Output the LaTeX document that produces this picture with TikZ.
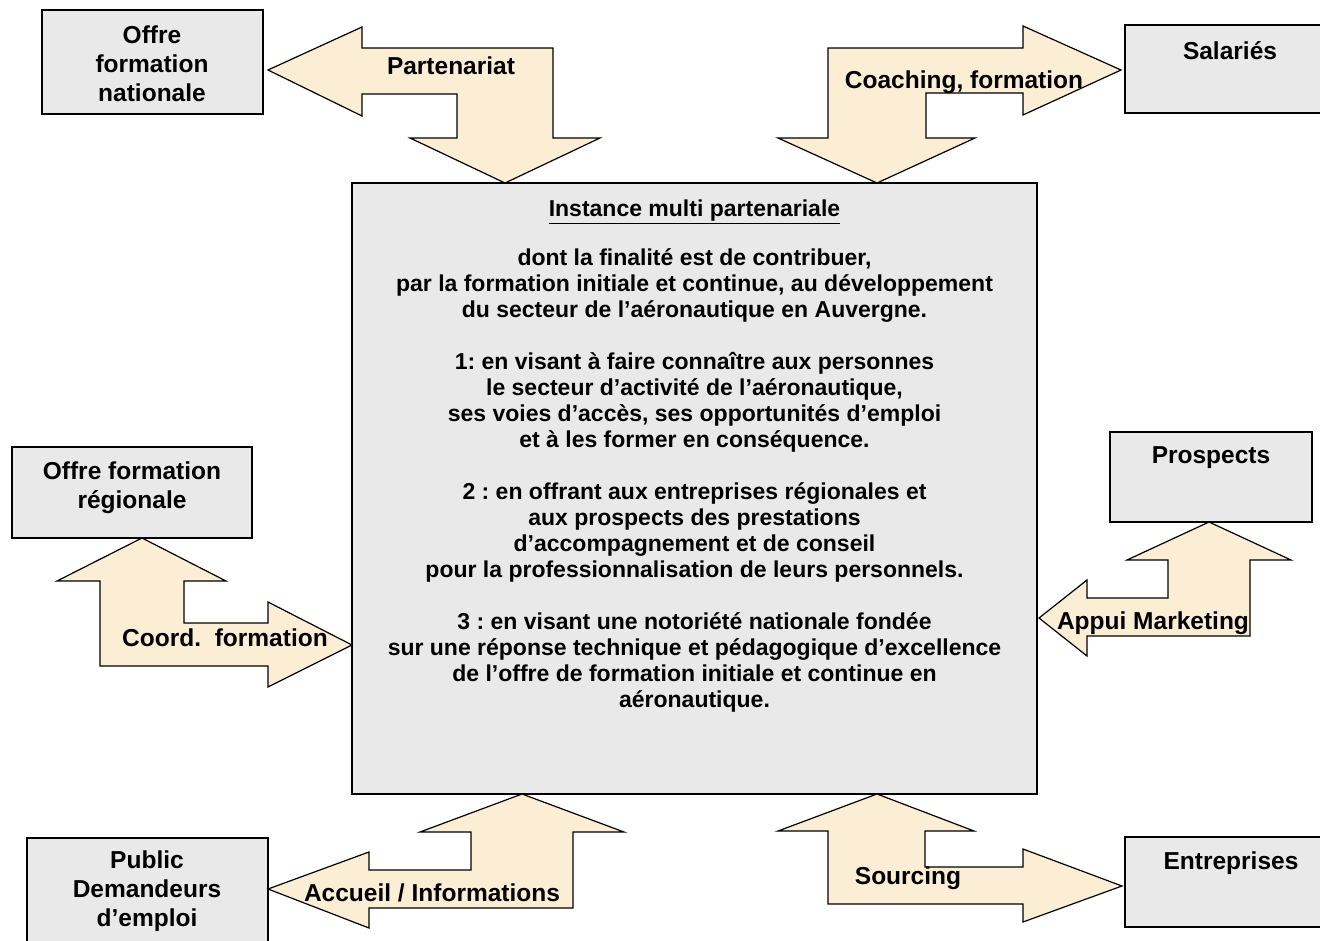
\documentclass[tikz,border=0pt]{standalone}
\usepackage{fontspec}
\setmainfont{Liberation Sans}
\frenchspacing
\definecolor{parchment}{RGB}{252,238,212}
\definecolor{boxgray}{RGB}{233,233,233}

\begin{document}
\begin{tikzpicture}[x=1pt, y=-1pt,
		fleche/.style={fill=parchment, draw=black, line width=1.2pt, line join=miter},
		cadre/.style={fill=boxgray, draw=black, line width=1.4pt},
		titre/.style={font=\fontsize{24.5}{29}\selectfont\bfseries, align=center, inner sep=0},
		etiquette/.style={font=\fontsize{24.5}{29}\selectfont\bfseries, anchor=base, inner sep=0}]
		\useasboundingbox (0, 0) rectangle (1320, 940);

		% cadres
		\filldraw[cadre] (42, 10) rectangle (263, 114);
		\filldraw[cadre] (1125, 25) rectangle (1330, 113);
		\filldraw[cadre] (12, 447) rectangle (252, 538);
		\filldraw[cadre] (1110, 432) rectangle (1312, 522);
		\filldraw[cadre] (27, 838) rectangle (268, 950);
		\filldraw[cadre] (1125, 837) rectangle (1330, 927);
		\filldraw[cadre] (352, 183) rectangle (1037, 794);

		% fleches
		\filldraw[fleche] (268, 70) -- (362, 27) -- (362, 48) -- (553, 48) -- (553, 138) -- (600, 138) -- (505, 183)
			-- (410, 138) -- (457, 138) -- (457, 94) -- (362, 94) -- (362, 116) -- cycle;
		\filldraw[fleche] (1121, 70) -- (1023, 26) -- (1023, 48) -- (828, 48) -- (828, 138) -- (778, 138) -- (877, 183)
			-- (975, 138) -- (926, 138) -- (926, 93) -- (1023, 93) -- (1023, 115) -- cycle;
		\filldraw[fleche] (142, 538) -- (226, 581) -- (184, 581) -- (184, 623) -- (268, 623) -- (268, 602) -- (352, 645)
			-- (268, 687) -- (268, 666) -- (100, 666) -- (100, 581) -- (57, 581) -- cycle;
		\filldraw[fleche] (1209, 522) -- (1291, 560) -- (1250, 560) -- (1250, 636) -- (1087, 636) -- (1087, 656) -- (1039, 618)
			-- (1087, 580) -- (1087, 598) -- (1168, 598) -- (1168, 560) -- (1127, 560) -- cycle;
		\filldraw[fleche] (522, 794) -- (624, 832) -- (573, 832) -- (573, 908) -- (369, 908) -- (369, 928) -- (268, 889)
			-- (369, 852) -- (369, 870) -- (471, 870) -- (471, 832) -- (420, 832) -- cycle;
		\filldraw[fleche] (877, 794) -- (974, 831) -- (925, 831) -- (925, 867) -- (1023, 867) -- (1023, 849) -- (1122, 886)
			-- (1023, 922) -- (1023, 904) -- (828, 904) -- (828, 831) -- (778, 831) -- cycle;

		% textes des cadres
		\node[titre] (nationale) at (152, 64) {Offre\\formation\\nationale};
		\node[titre] (salaries) at (1230, 51) {Salariés};
		\node[titre] (regionale) at (132, 488) {Offre formation\\régionale};
		\node[titre] (prospects) at (1211, 458) {Prospects};
		\node[titre] (public) at (147, 891) {Public\\Demandeurs\\d’emploi};
		\node[titre] (entreprises) at (1231, 863) {Entreprises};

		% textes des fleches
		\node[etiquette] (partenariat) at (451, 74) {Partenariat};
		\node[etiquette] (coaching) at (964, 88) {Coaching, formation};
		\node[etiquette] (coord) at (225, 646) {Coord.~~formation};
		\node[etiquette] (marketing) at (1153, 629) {Appui Marketing};
		\node[etiquette] (accueil) at (432, 901) {Accueil / Informations};
		\node[etiquette] (sourcing) at (908, 884) {Sourcing};

		% instance
		\node[anchor=north, align=center, inner sep=0, font=\fontsize{23}{26}\selectfont\bfseries] (instance) at (694.5, 200)
			{\underline{Instance multi partenariale}\\[23pt]
			dont la finalité est de contribuer,\\
			par la formation initiale et continue, au développement\\
			du secteur de l’aéronautique en Auvergne.\\[26pt]
			1: en visant à faire connaître aux personnes\\
			le secteur d’activité de l’aéronautique,\\
			ses voies d’accès, ses opportunités d’emploi\\
			et à les former en conséquence.\\[26pt]
			2 : en offrant aux entreprises régionales et\\
			aux prospects des prestations\\
			d’accompagnement et de conseil\\
			pour la professionnalisation de leurs personnels.\\[26pt]
			3 : en visant une notoriété nationale fondée\\
			sur une réponse technique et pédagogique d’excellence\\
			de l’offre de formation initiale et continue en\\
			aéronautique.};
	\end{tikzpicture}
\end{document}
